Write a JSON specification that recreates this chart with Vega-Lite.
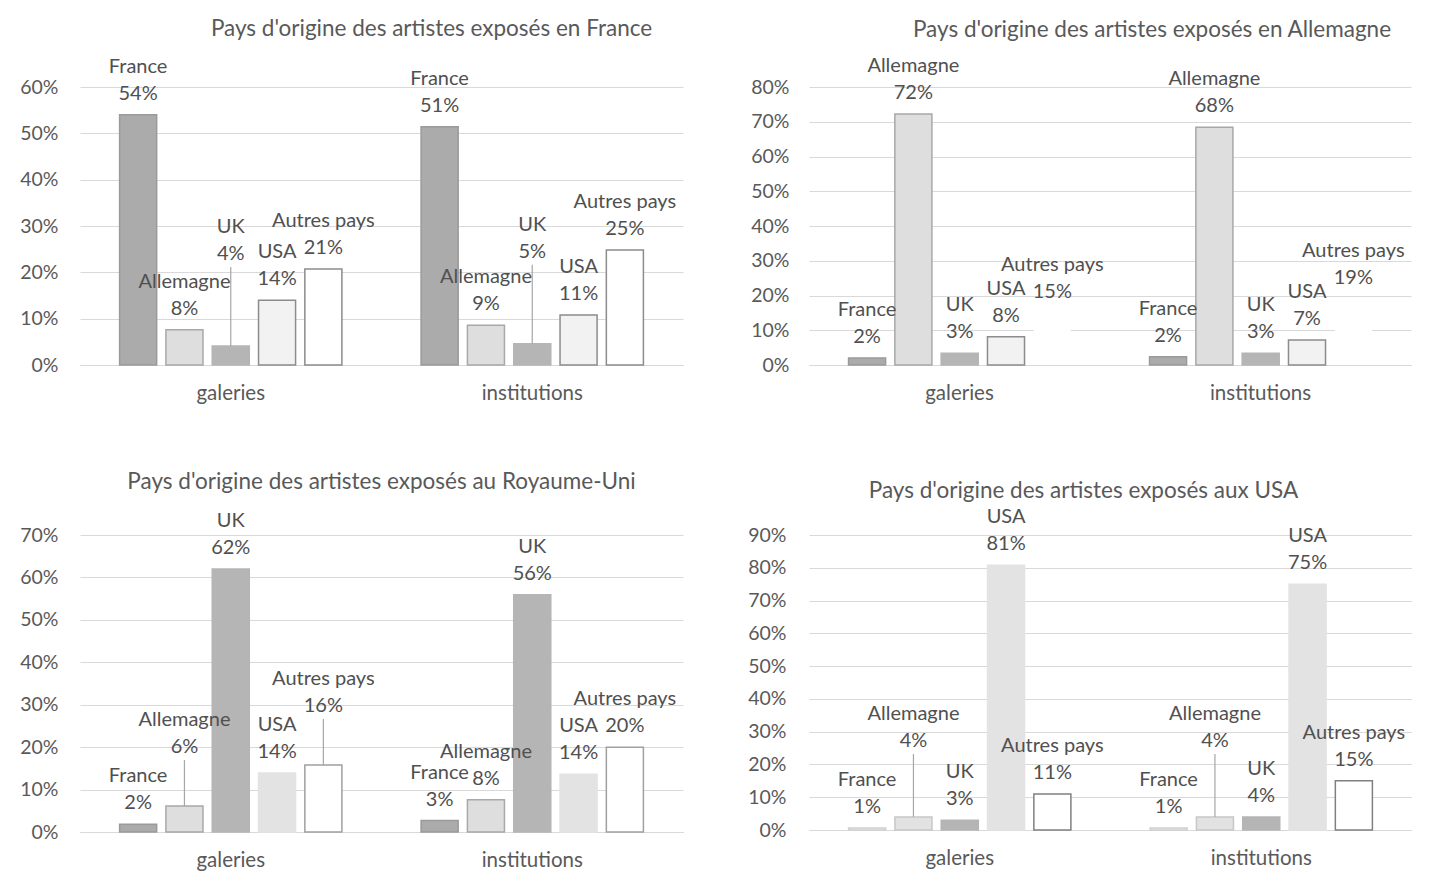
{
  "$schema": "https://vega.github.io/schema/vega-lite/v6.json",
  "padding": {"left": 19, "top": 18, "right": 0, "bottom": 0},
  "background": "white",
  "config": {
    "font": "Lato",
    "view": {"stroke": null},
    "axis": {"labelFont": "Lato", "labelFontSize": 19.5, "labelColor": "#595959", "ticks": false, "domain": false, "gridColor": "#d9d9d9", "gridWidth": 1.2},
    "axisX": {"domain": true, "domainColor": "#d9d9d9", "domainWidth": 1.2, "grid": false, "labelAngle": 0, "labelPadding": 18, "labelFontSize": 20.5},
    "axisY": {"labelPadding": 20},
    "title": {"font": "Lato", "fontSize": 22.5, "fontWeight": "normal", "color": "#595959", "anchor": "middle", "frame": "group"},
    "text": {"font": "Lato", "fontSize": 20, "color": "#505050"},
    "rule": {"color": "#a6a6a6", "strokeWidth": 1.2}
  },
  "datasets": {
    "fr": [
      {"lieu": "galeries", "pays": "France", "part": 0.540},
      {"lieu": "galeries", "pays": "Allemagne", "part": 0.076},
      {"lieu": "galeries", "pays": "UK", "part": 0.041},
      {"lieu": "galeries", "pays": "USA", "part": 0.140},
      {"lieu": "galeries", "pays": "Autres pays", "part": 0.207},
      {"lieu": "institutions", "pays": "France", "part": 0.514},
      {"lieu": "institutions", "pays": "Allemagne", "part": 0.086},
      {"lieu": "institutions", "pays": "UK", "part": 0.046},
      {"lieu": "institutions", "pays": "USA", "part": 0.108},
      {"lieu": "institutions", "pays": "Autres pays", "part": 0.248}
    ],
    "de": [
      {"lieu": "galeries", "pays": "France", "part": 0.020},
      {"lieu": "galeries", "pays": "Allemagne", "part": 0.722},
      {"lieu": "galeries", "pays": "UK", "part": 0.034},
      {"lieu": "galeries", "pays": "USA", "part": 0.081},
      {"lieu": "galeries", "pays": "Autres pays", "part": 0.150},
      {"lieu": "institutions", "pays": "France", "part": 0.024},
      {"lieu": "institutions", "pays": "Allemagne", "part": 0.684},
      {"lieu": "institutions", "pays": "UK", "part": 0.034},
      {"lieu": "institutions", "pays": "USA", "part": 0.072},
      {"lieu": "institutions", "pays": "Autres pays", "part": 0.190}
    ],
    "uk": [
      {"lieu": "galeries", "pays": "France", "part": 0.018},
      {"lieu": "galeries", "pays": "Allemagne", "part": 0.061},
      {"lieu": "galeries", "pays": "UK", "part": 0.620},
      {"lieu": "galeries", "pays": "USA", "part": 0.139},
      {"lieu": "galeries", "pays": "Autres pays", "part": 0.158},
      {"lieu": "institutions", "pays": "France", "part": 0.027},
      {"lieu": "institutions", "pays": "Allemagne", "part": 0.076},
      {"lieu": "institutions", "pays": "UK", "part": 0.559},
      {"lieu": "institutions", "pays": "USA", "part": 0.136},
      {"lieu": "institutions", "pays": "Autres pays", "part": 0.200}
    ],
    "us": [
      {"lieu": "galeries", "pays": "France", "part": 0.006},
      {"lieu": "galeries", "pays": "Allemagne", "part": 0.040},
      {"lieu": "galeries", "pays": "UK", "part": 0.030},
      {"lieu": "galeries", "pays": "USA", "part": 0.808},
      {"lieu": "galeries", "pays": "Autres pays", "part": 0.110},
      {"lieu": "institutions", "pays": "France", "part": 0.006},
      {"lieu": "institutions", "pays": "Allemagne", "part": 0.040},
      {"lieu": "institutions", "pays": "UK", "part": 0.040},
      {"lieu": "institutions", "pays": "USA", "part": 0.750},
      {"lieu": "institutions", "pays": "Autres pays", "part": 0.150}
    ]
  },
  "bounds": "flush",
  "columns": 2,
  "spacing": {"row": 170, "column": 126},
  "resolve": {"scale": {"fill": "independent", "stroke": "independent"}},
  "concat": [
    {
      "width": 603, "height": 278,
      "title": {"text": "Pays d'origine des artistes exposés en France", "dx": 50, "offset": 16},
      "data": {"name": "fr"},
      "encoding": {
        "x": {"field": "lieu", "type": "nominal", "sort": ["galeries", "institutions"], "scale": {"paddingInner": 0.232, "paddingOuter": 0.116}, "axis": {"title": null}},
        "xOffset": {"field": "pays", "type": "nominal", "sort": ["France", "Allemagne", "UK", "USA", "Autres pays"], "scale": {"paddingInner": 0.2, "paddingOuter": 0.1}},
        "y": {"field": "part", "type": "quantitative", "scale": {"domain": [0, 0.6], "nice": false}, "axis": {"title": null, "format": ".0%", "values": [0, 0.1, 0.2, 0.3, 0.4, 0.5, 0.6], "labelPadding": 22}}
      },
      "layer": [
        {"mark": {"type": "bar", "strokeWidth": 1.5},
         "encoding": {
           "fill": {"field": "pays", "type": "nominal", "legend": null, "scale": {"domain": ["France", "Allemagne", "UK", "USA", "Autres pays"], "range": ["#ababab", "#dedede", "#b5b5b5", "#f2f2f2", "#ffffff"]}},
           "stroke": {"field": "pays", "type": "nominal", "legend": null, "scale": {"domain": ["France", "Allemagne", "UK", "USA", "Autres pays"], "range": ["#9a9a9a", "#a8a8a8", "#b5b5b5", "#8c8c8c", "#8c8c8c"]}}
         }},
        {"transform": [{"filter": "datum.pays === 'UK'"}],
         "mark": {"type": "rule", "y2Offset": -79},
         "encoding": {"y2": {"field": "part"}}},
        {"transform": [{"filter": "datum.pays !== 'UK'"}],
         "mark": {"type": "text", "baseline": "bottom", "dy": -11}, "encoding": {"text": {"field": "part", "format": ".0%"}}},
        {"transform": [{"filter": "datum.pays !== 'UK'"}],
         "mark": {"type": "text", "baseline": "bottom", "dy": -38}, "encoding": {"text": {"field": "pays"}}},
        {"transform": [{"filter": "datum.pays === 'UK'"}],
         "mark": {"type": "text", "baseline": "bottom", "dy": -82}, "encoding": {"text": {"field": "part", "format": ".0%"}}},
        {"transform": [{"filter": "datum.pays === 'UK'"}],
         "mark": {"type": "text", "baseline": "bottom", "dy": -109}, "encoding": {"text": {"field": "pays"}}}
      ]
    },
    {
      "width": 602, "height": 278,
      "title": {"text": "Pays d'origine des artistes exposés en Allemagne", "dx": 42, "offset": 15},
      "data": {"name": "de"},
      "encoding": {
        "x": {"field": "lieu", "type": "nominal", "sort": ["galeries", "institutions"], "scale": {"paddingInner": 0.232, "paddingOuter": 0.116}, "axis": {"title": null}},
        "xOffset": {"field": "pays", "type": "nominal", "sort": ["France", "Allemagne", "UK", "USA", "Autres pays"], "scale": {"paddingInner": 0.2, "paddingOuter": 0.1}},
        "y": {"field": "part", "type": "quantitative", "scale": {"domain": [0, 0.8], "nice": false}, "axis": {"title": null, "format": ".0%", "values": [0, 0.1, 0.2, 0.3, 0.4, 0.5, 0.6, 0.7, 0.8], "labelPadding": 20}}
      },
      "layer": [
        {"mark": {"type": "bar", "strokeWidth": 1.5},
         "encoding": {
           "fill": {"field": "pays", "type": "nominal", "legend": null, "scale": {"domain": ["France", "Allemagne", "UK", "USA", "Autres pays"], "range": ["#ababab", "#dedede", "#b5b5b5", "#f2f2f2", "#ffffff"]}},
           "stroke": {"field": "pays", "type": "nominal", "legend": null, "scale": {"domain": ["France", "Allemagne", "UK", "USA", "Autres pays"], "range": ["#9a9a9a", "#a8a8a8", "#b5b5b5", "#8c8c8c", "transparent"]}}
         }},
        {"mark": {"type": "text", "baseline": "bottom", "dy": -11}, "encoding": {"text": {"field": "part", "format": ".0%"}}},
        {"mark": {"type": "text", "baseline": "bottom", "dy": -38}, "encoding": {"text": {"field": "pays"}}}
      ]
    },
    {
      "width": 603, "height": 297,
      "title": {"text": "Pays d'origine des artistes exposés au Royaume-Uni", "dx": 0, "offset": 17},
      "data": {"name": "uk"},
      "encoding": {
        "x": {"field": "lieu", "type": "nominal", "sort": ["galeries", "institutions"], "scale": {"paddingInner": 0.232, "paddingOuter": 0.116}, "axis": {"title": null}},
        "xOffset": {"field": "pays", "type": "nominal", "sort": ["France", "Allemagne", "UK", "USA", "Autres pays"], "scale": {"paddingInner": 0.2, "paddingOuter": 0.1}},
        "y": {"field": "part", "type": "quantitative", "scale": {"domain": [0, 0.7], "nice": false}, "axis": {"title": null, "format": ".0%", "values": [0, 0.1, 0.2, 0.3, 0.4, 0.5, 0.6, 0.7], "labelPadding": 22}}
      },
      "layer": [
        {"mark": {"type": "bar", "strokeWidth": 1.5},
         "encoding": {
           "fill": {"field": "pays", "type": "nominal", "legend": null, "scale": {"domain": ["France", "Allemagne", "UK", "USA", "Autres pays"], "range": ["#ababab", "#dedede", "#b5b5b5", "#e3e3e3", "#ffffff"]}},
           "stroke": {"field": "pays", "type": "nominal", "legend": null, "scale": {"domain": ["France", "Allemagne", "UK", "USA", "Autres pays"], "range": ["#9a9a9a", "#a8a8a8", "#b5b5b5", "#e3e3e3", "#a0a0a0"]}}
         }},
        {"transform": [{"filter": "datum.lieu === 'galeries' && (datum.pays === 'Allemagne' || datum.pays === 'Autres pays')"}],
         "mark": {"type": "rule", "y2Offset": -46},
         "encoding": {"y2": {"field": "part"}}},
        {"transform": [{"filter": "!(datum.lieu === 'galeries' && (datum.pays === 'Allemagne' || datum.pays === 'Autres pays'))"}],
         "mark": {"type": "text", "baseline": "bottom", "dy": -11}, "encoding": {"text": {"field": "part", "format": ".0%"}}},
        {"transform": [{"filter": "!(datum.lieu === 'galeries' && (datum.pays === 'Allemagne' || datum.pays === 'Autres pays'))"}],
         "mark": {"type": "text", "baseline": "bottom", "dy": -38}, "encoding": {"text": {"field": "pays"}}},
        {"transform": [{"filter": "datum.lieu === 'galeries' && (datum.pays === 'Allemagne' || datum.pays === 'Autres pays')"}],
         "mark": {"type": "text", "baseline": "bottom", "dy": -49}, "encoding": {"text": {"field": "part", "format": ".0%"}}},
        {"transform": [{"filter": "datum.lieu === 'galeries' && (datum.pays === 'Allemagne' || datum.pays === 'Autres pays')"}],
         "mark": {"type": "text", "baseline": "bottom", "dy": -76}, "encoding": {"text": {"field": "pays"}}}
      ]
    },
    {
      "width": 603, "height": 295,
      "title": {"text": "Pays d'origine des artistes exposés aux USA", "dx": -27, "offset": 5},
      "data": {"name": "us"},
      "encoding": {
        "x": {"field": "lieu", "type": "nominal", "sort": ["galeries", "institutions"], "scale": {"paddingInner": 0.232, "paddingOuter": 0.116}, "axis": {"title": null}},
        "xOffset": {"field": "pays", "type": "nominal", "sort": ["France", "Allemagne", "UK", "USA", "Autres pays"], "scale": {"paddingInner": 0.2, "paddingOuter": 0.1}},
        "y": {"field": "part", "type": "quantitative", "scale": {"domain": [0, 0.9], "nice": false}, "axis": {"title": null, "format": ".0%", "values": [0, 0.1, 0.2, 0.3, 0.4, 0.5, 0.6, 0.7, 0.8, 0.9], "labelPadding": 23}}
      },
      "layer": [
        {"mark": {"type": "bar", "strokeWidth": 1.5},
         "encoding": {
           "fill": {"field": "pays", "type": "nominal", "legend": null, "scale": {"domain": ["France", "Allemagne", "UK", "USA", "Autres pays"], "range": ["#ececec", "#e2e2e2", "#b5b5b5", "#e3e3e3", "#ffffff"]}},
           "stroke": {"field": "pays", "type": "nominal", "legend": null, "scale": {"domain": ["France", "Allemagne", "UK", "USA", "Autres pays"], "range": ["#d0d0d0", "#c8c8c8", "#b5b5b5", "#e3e3e3", "#808080"]}}
         }},
        {"transform": [{"filter": "datum.pays === 'Allemagne'"}],
         "mark": {"type": "rule", "y2Offset": -63},
         "encoding": {"y2": {"field": "part"}}},
        {"transform": [{"filter": "datum.pays !== 'Allemagne'"}],
         "mark": {"type": "text", "baseline": "bottom", "dy": -11}, "encoding": {"text": {"field": "part", "format": ".0%"}}},
        {"transform": [{"filter": "datum.pays !== 'Allemagne'"}],
         "mark": {"type": "text", "baseline": "bottom", "dy": -38}, "encoding": {"text": {"field": "pays"}}},
        {"transform": [{"filter": "datum.pays === 'Allemagne'"}],
         "mark": {"type": "text", "baseline": "bottom", "dy": -66}, "encoding": {"text": {"field": "part", "format": ".0%"}}},
        {"transform": [{"filter": "datum.pays === 'Allemagne'"}],
         "mark": {"type": "text", "baseline": "bottom", "dy": -93}, "encoding": {"text": {"field": "pays"}}}
      ]
    }
  ]
}
